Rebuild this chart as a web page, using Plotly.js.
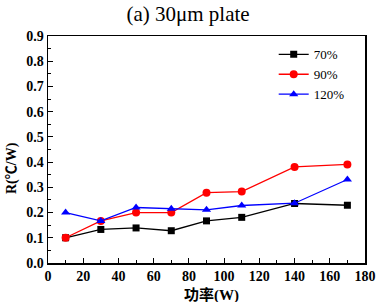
<!DOCTYPE html>
<html><head><meta charset="utf-8">
<script src="https://cdn.plot.ly/plotly-3.0.1.min.js"></script>
<style>html,body{margin:0;padding:0;background:#fff;}</style>
</head><body>
<div id="chart" style="width:376px;height:302px;"></div>
<script>
const power = [10, 30, 50, 70, 90, 110, 140, 170];
const r70 = [0.100, 0.133, 0.139, 0.128, 0.167, 0.181, 0.236, 0.229];
const r90 = [0.100, 0.167, 0.200, 0.200, 0.279, 0.283, 0.381, 0.391];
const r120 = [0.200, 0.167, 0.220, 0.215, 0.211, 0.228, 0.237, 0.331];
const names = ['70%', '90%', '120%'];
const yTickVals = [0, 0.1, 0.2, 0.3, 0.4, 0.5, 0.6, 0.7, 0.8, 0.9];
const yTickText = ['0.0', '0.1', '0.2', '0.3', '0.4', '0.5', '0.6', '0.7', '0.8', '0.9'];
const titleText = '(a) 30μm plate';
const xTitle = '功率(W)';
const yTitle = 'R(℃/W)';

const serif = '"Liberation Serif", "Times New Roman", serif';
const cjk = '"Liberation Serif", "Noto Sans CJK SC", serif';
const traces = [
  {x: power, y: r70, name: names[0], mode: 'lines+markers',
   line: {color: '#000000', width: 1.3}, marker: {symbol: 'square', size: 7, color: '#000000'}},
  {x: power, y: r90, name: names[1], mode: 'lines+markers',
   line: {color: '#ff0000', width: 1.3}, marker: {symbol: 'circle', size: 8, color: '#ff0000'}},
  {x: power, y: r120, name: names[2], mode: 'lines+markers',
   line: {color: '#0000ff', width: 1.3}, marker: {symbol: 'triangle-up', size: 8, color: '#0000ff'}}
];
const axisCommon = {
  showgrid: false, zeroline: false, showline: true, mirror: true,
  linecolor: '#000', linewidth: 1.5, ticks: 'inside', ticklen: 5, tickwidth: 1.2, tickcolor: '#000',
  tickfont: {family: serif, size: 14, color: '#000', weight: 700}
};
const layout = {
  width: 376, height: 302,
  font: {family: serif, color: '#000'},
  margin: {l: 48, r: 11, t: 36, b: 39},
  paper_bgcolor: '#fff', plot_bgcolor: '#fff',
  title: {text: titleText, font: {family: serif, size: 21, color: '#000'},
          x: 0.5, xanchor: 'center', y: 0.955, yanchor: 'middle'},
  xaxis: Object.assign({}, axisCommon, {
    range: [0, 180], dtick: 20, tick0: 0,
    minor: {dtick: 10, ticks: 'inside', ticklen: 3, tickcolor: '#000', tickwidth: 1}
  }),
  yaxis: Object.assign({}, axisCommon, {
    range: [0, 0.9], tickvals: yTickVals, ticktext: yTickText,
    minor: {dtick: 0.05, ticks: 'inside', ticklen: 3, tickcolor: '#000', tickwidth: 1}
  }),
  annotations: [{
    text: yTitle, xref: 'paper', yref: 'paper', x: -0.1136, y: 0.4185,
    xanchor: 'center', yanchor: 'middle', textangle: -90, showarrow: false,
    font: {family: cjk, size: 14, color: '#000', weight: 700}
  }, {
    text: xTitle, xref: 'paper', yref: 'paper', x: 0.517, y: -0.141,
    xanchor: 'center', yanchor: 'middle', showarrow: false,
    font: {family: cjk, size: 15, color: '#000', weight: 700}
  }],
  showlegend: true,
  legend: {x: 0.712, y: 0.985, xanchor: 'left', yanchor: 'top', bgcolor: 'rgba(0,0,0,0)',
           font: {family: serif, size: 13, color: '#000'}, tracegroupgap: 0, itemwidth: 30}
};
Plotly.newPlot('chart', traces, layout, {displayModeBar: false, staticPlot: true});
</script>
</body></html>
